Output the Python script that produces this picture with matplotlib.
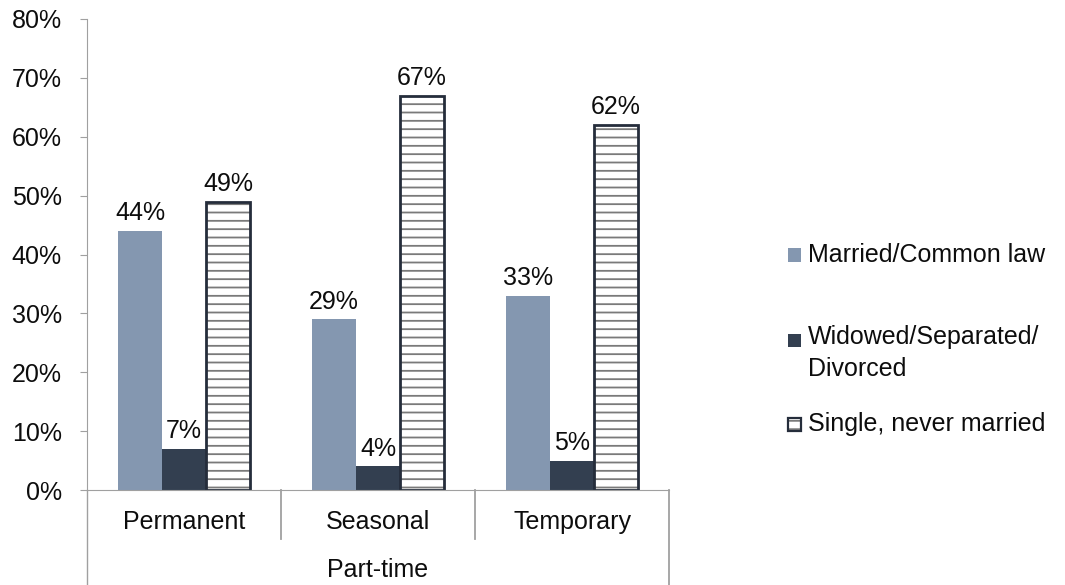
import matplotlib
matplotlib.use("Agg")
import matplotlib.pyplot as plt
from matplotlib.patches import Rectangle
import matplotlib.transforms as mtransforms
import numpy as np

plt.rcParams['font.family'] = ['Liberation Sans', 'DejaVu Sans']
plt.rcParams['hatch.linewidth'] = 1.3

categories = ["Permanent", "Seasonal", "Temporary"]
group_label = "Part-time"
series_names = ["Married/Common law", "Widowed/Separated/\nDivorced", "Single, never married"]
married = [44, 29, 33]
widowed = [7, 4, 5]
single = [49, 67, 62]
yticks = [0, 10, 20, 30, 40, 50, 60, 70, 80]

c_married = '#8497b0'
c_widowed = '#333f50'
c_edge = '#252d3b'
c_hatch = '#7a7a7a'
grid_gray = '#a0a0a0'
txt = '#0d0d0d'
fs = 18

W, H = 1065, 585
ax_l, ax_r, ax_b, ax_t = 87, 669, 490, 19
fig = plt.figure(figsize=(W/100, H/100), dpi=100)
ax = fig.add_axes([ax_l/W, (H-ax_b)/H, (ax_r-ax_l)/W, (ax_b-ax_t)/H])
ah = ax_b - ax_t

x = np.arange(len(categories))
w = 0.227
b1 = ax.bar(x - w, married, w, color=c_married, linewidth=0)
b2 = ax.bar(x, widowed, w, color=c_widowed, linewidth=0)
# striped fill, then a dark outline on top
ax.bar(x + w, single, w, color='white', edgecolor=c_hatch, linewidth=0, hatch='--')
b3 = ax.bar(x + w, single, w, fill=False, edgecolor=c_edge, linewidth=2)

for bars, vals in ((b1, married), (b2, widowed), (b3, single)):
    for rect, v in zip(bars, vals):
        ax.annotate(f"{v}%", (rect.get_x() + rect.get_width()/2, v),
                    xytext=(0, 4), textcoords='offset points',
                    ha='center', va='bottom', fontsize=fs, color=txt)

ax.set_xlim(-0.5, 2.5)
ax.set_ylim(0, 80)
ax.set_yticks(yticks)
ax.set_yticklabels([f"{t}%" for t in yticks], fontsize=fs, color=txt)
ax.tick_params(axis='y', direction='out', length=5, color=grid_gray, pad=13)
ax.set_xticks([])

for s in ('top', 'right'):
    ax.spines[s].set_visible(False)
ax.spines['left'].set_color(grid_gray)
ax.spines['bottom'].set_color(grid_gray)

# category box below the axis
trans = mtransforms.blended_transform_factory(ax.transData, ax.transAxes)
y_bottom = -(H - ax_b) / ah
y_div = -(539 - ax_b) / ah
ax.plot([-0.5, -0.5], [0, y_bottom], transform=trans, color=grid_gray, lw=1, clip_on=False)
ax.plot([2.5, 2.5], [0, y_bottom], transform=trans, color=grid_gray, lw=1.3, clip_on=False)
for d in (0.5, 1.5):
    ax.plot([d, d], [0, y_div], transform=trans, color=grid_gray, lw=1.3, clip_on=False)

for xi, c in zip(x, categories):
    ax.text(xi, -(522 - ax_b)/ah, c, transform=trans, ha='center', va='center', fontsize=fs, color=txt)
ax.text(1, -(570 - ax_b)/ah, group_label, transform=trans, ha='center', va='center', fontsize=fs, color=txt)

# legend
sq = 13
lx = 788
tx = 808
entries = [(255, c_married, None), (340, c_widowed, None), (424, 'white', '--')]
for (yc, fc, h), name in zip(entries, series_names):
    rect_xy = (lx/W, (H - yc - sq/2)/H)
    if h is None:
        fig.patches.append(Rectangle(rect_xy, sq/W, sq/H, transform=fig.transFigure,
                                     facecolor=fc, linewidth=0))
    else:
        fig.patches.append(Rectangle(rect_xy, sq/W, sq/H, transform=fig.transFigure,
                                     facecolor=fc, edgecolor=c_hatch, linewidth=0, hatch=h))
        fig.patches.append(Rectangle(rect_xy, sq/W, sq/H, transform=fig.transFigure,
                                     fill=False, edgecolor=c_edge, linewidth=1.6))
    if '\n' in name:
        fig.text(tx/W, (H - yc + 15)/H, name, ha='left', va='top', fontsize=fs,
                 color=txt, linespacing=1.42)
    else:
        fig.text(tx/W, (H - yc)/H, name, ha='left', va='center', fontsize=fs, color=txt)

fig.savefig("out.png", dpi=100)
